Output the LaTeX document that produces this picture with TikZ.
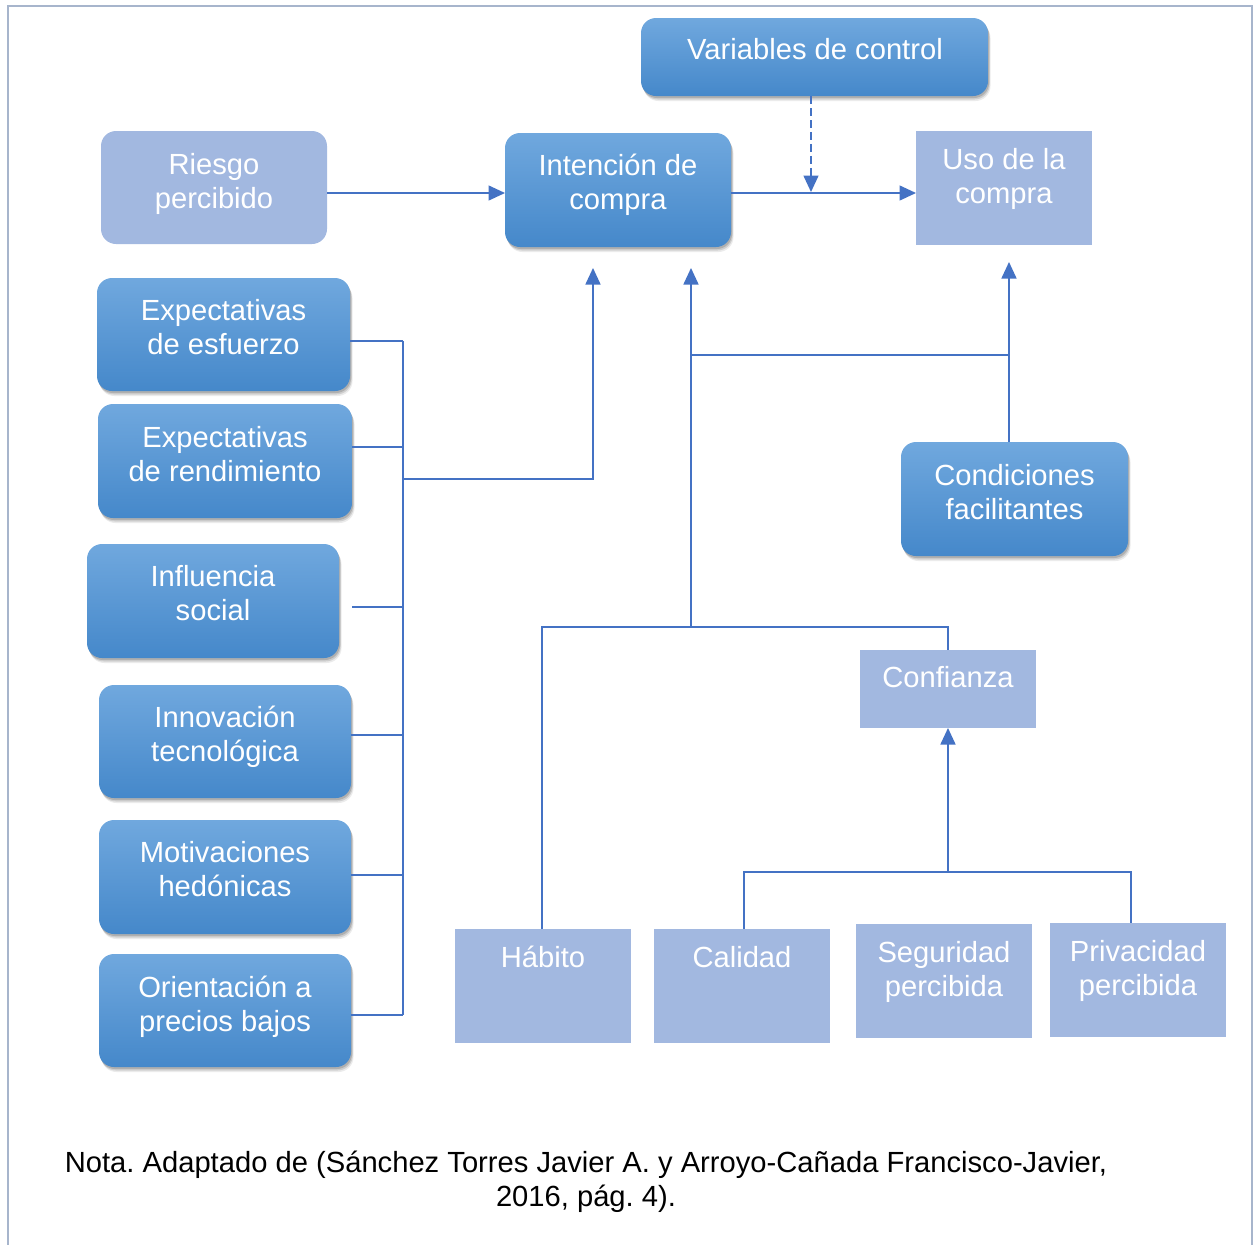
\documentclass[tikz,border=0pt]{standalone}
\usepackage{fontspec}
\setmainfont{Liberation Sans}
\frenchspacing
\usetikzlibrary{arrows.meta,shadows,calc}
\definecolor{gtop}{HTML}{70A8DE}
\definecolor{gbot}{HTML}{4588CA}
\definecolor{lightb}{HTML}{A2B8E0}
\definecolor{connc}{HTML}{4472C4}
\definecolor{framec}{HTML}{A7B5CC}
\newcommand\mkbox[6]{\node[#1, minimum width={(#4-#2)*0.02cm}, minimum height={(#5-#3)*0.02cm}] (#6) at ({(#2+#4)/2},{(#3+#5)/2}) {};}
\tikzset{
  boxbase/.style={inner sep=0pt, outer sep=0pt, draw=none},
  gbox/.style={boxbase, rounded corners=0.3cm, top color=gtop, bottom color=gbot,
     drop shadow={shadow xshift=0.05cm, shadow yshift=-0.1cm, opacity=0.08, fill=black},
     drop shadow={shadow xshift=0.035cm, shadow yshift=-0.07cm, opacity=0.12, fill=black},
     drop shadow={shadow xshift=0.02cm, shadow yshift=-0.04cm, opacity=0.15, fill=black}},
  rbox/.style={boxbase, rounded corners=0.3cm, fill=lightb},
  sbox/.style={boxbase, fill=lightb},
  txt/.style={text=white, align=center, inner sep=0pt, font=\fontsize{16.6}{19.3}\selectfont},
  cn/.style={draw=connc, line width=0.03cm, >={Triangle[length=0.33cm,width=0.3cm]}},
  dsh/.style={cn, dash pattern=on 0.16cm off 0.08cm}
}
\begin{document}
\begin{tikzpicture}[x=0.02cm, y=-0.02cm]
\useasboundingbox (0,0) rectangle (1259,1245);
\draw[framec, line width=0.03cm] (8,1260) -- (8,6) -- (1252,6) -- (1252,1260);

% boxes
\mkbox{gbox}{641}{18}{988}{96}{var}
\mkbox{gbox}{505}{133}{731}{247}{int}
\mkbox{sbox}{916}{131}{1092}{245}{uso}
\mkbox{rbox}{101}{131}{327}{244}{ries}
\mkbox{gbox}{97}{278}{350}{391}{esf}
\mkbox{gbox}{98}{404}{352}{518}{ren}
\mkbox{gbox}{87}{544}{339}{658}{inf}
\mkbox{gbox}{99}{685}{351}{798}{inn}
\mkbox{gbox}{99}{820}{351}{934}{mot}
\mkbox{gbox}{99}{954}{351}{1067}{ori}
\mkbox{gbox}{901}{442}{1128}{556}{cond}
\mkbox{sbox}{860}{650}{1036}{728}{conf}
\mkbox{sbox}{455}{929}{631}{1043}{hab}
\mkbox{sbox}{654}{929}{830}{1043}{cal}
\mkbox{sbox}{856}{924}{1032}{1038}{seg}
\mkbox{sbox}{1050}{923}{1226}{1037}{priv}

% texts
\node[txt] (var-t) at (815,53) {\strut Variables de control};
\node[txt] (int-t) at (618,186) {\strut Intención de\\\strut compra};
\node[txt] (uso-t) at (1004,179.5) {\strut Uso de la\\\strut compra};
\node[txt] (ries-t) at (214,184.5) {\strut Riesgo\\\strut percibido};
\node[txt] (esf-t) at (223.5,330.5) {\strut Expectativas\\\strut de esfuerzo};
\node[txt] (ren-t) at (225,458) {\strut Expectativas\\\strut de rendimiento};
\node[txt] (inf-t) at (213,597) {\strut Influencia\\\strut social};
\node[txt] (inn-t) at (225,738) {\strut Innovación\\\strut tecnológica};
\node[txt] (mot-t) at (225,873) {\strut Motivaciones\\\strut hedónicas};
\node[txt] (ori-t) at (225,1007.5) {\strut Orientación a\\\strut precios bajos};
\node[txt] (cond-t) at (1014.5,496) {\strut Condiciones\\\strut facilitantes};
\node[txt] (conf-t) at (948,681) {\strut Confianza};
\node[txt] (hab-t) at (543,961) {\strut Hábito};
\node[txt] (cal-t) at (742,961) {\strut Calidad};
\node[txt] (seg-t) at (944,972.5) {\strut Seguridad\\\strut percibida};
\node[txt] (priv-t) at (1138,972) {\strut Privacidad\\\strut percibida};

\node[txt, text=black] (nota) at (586,1183) {\strut Nota. Adaptado de (Sánchez Torres Javier A. y Arroyo-Cañada Francisco-Javier,\\\strut 2016, pág. 4).};

% coordinates
\coordinate (vj) at (811,192);
\coordinate (b1) at (403,341);
\coordinate (b6) at (403,1015);
\coordinate (bj) at (403,479);
\coordinate (ai1) at (593,268);
\coordinate (ai2) at (691,268);
\coordinate (hj) at (691,627);
\coordinate (mj) at (691,355);
\coordinate (au) at (1009,262);
\coordinate (cj) at (948,872);

% connectors
\draw[cn,->] (ries.east |- 0,193) -- (int.west |- 0,193);
\draw[cn,->] (int.east |- 0,193) -- (uso.west |- 0,193);
\draw[dsh,->] (var.south -| vj) -- (vj);

\draw[cn] (b1) -- (b6);
\draw[cn] (esf.east |- 0,341) -- (b1);
\draw[cn] (ren.east |- 0,447) -- (403,447);
\draw[cn] (inf.east |- 0,607) ++(13,0) -- (403,607);
\draw[cn] (inn.east |- 0,735) -- (403,735);
\draw[cn] (mot.east |- 0,875) -- (403,875);
\draw[cn] (ori.east |- 0,1015) -- (b6);
\draw[cn,->] (bj) -| (ai1);

\draw[cn,->] (hj) -- (ai2);
\draw[cn] (mj) -- (mj -| au);
\draw[cn,->] (cond.north -| au) -- (au);

\draw[cn] (hab.north -| 542,0) |- (hj) -| (conf.north);

\draw[cn,->] (cj) -- (conf.south);
\draw[cn] (cal.north -| 744,0) |- (cj);
\draw[cn] (cj) -| (priv.north -| 1131,0);
\end{tikzpicture}
\end{document}
